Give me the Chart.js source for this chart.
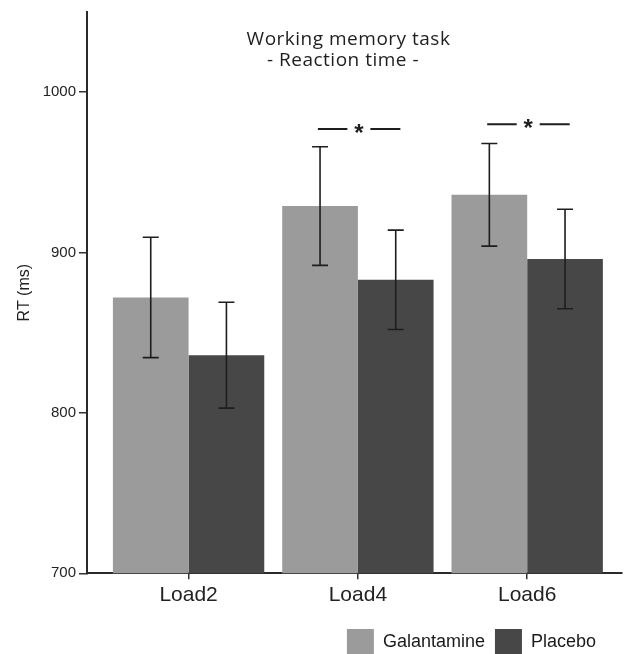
<!DOCTYPE html>
<html><head><meta charset="utf-8">
<script src="https://cdn.jsdelivr.net/npm/chart.js@4/dist/chart.umd.min.js"></script>
<style>html,body{margin:0;padding:0;background:#fff;overflow:hidden}#wrap{width:624px;height:654px;position:relative}</style>
</head><body><div id="wrap"><canvas id="c" width="624" height="654"></canvas></div>
<script>
const categories = ['Load2', 'Load4', 'Load6'];
const seriesNames = ['Galantamine', 'Placebo'];
const galantamine = [872, 929, 936];
const placebo = [836, 883, 896];
const galantamineErr = [37.5, 37, 32];
const placeboErr = [33, 31, 31];
const yTicks = [700, 800, 900, 1000];
const sigCategories = ['Load4', 'Load6'];
const sigLevels = [977, 980];
const sigMarks = ['*', '*'];
const titleLines = ['Working memory task', '- Reaction time -'];
const yTitle = 'RT (ms)';

const FONT = '"Liberation Sans", Arial, Helvetica, sans-serif';
Chart.defaults.font.family = FONT;
Chart.defaults.color = '#222';

const errorBars = {
  id: 'errorBars',
  afterDatasetsDraw(chart) {
    const ctx = chart.ctx, y = chart.scales.y;
    const errs = [galantamineErr, placeboErr];
    ctx.save();
    ctx.strokeStyle = '#1e1e1e';
    ctx.lineWidth = 1.6;
    chart.data.datasets.forEach((ds, di) => {
      const meta = chart.getDatasetMeta(di);
      meta.data.forEach((bar, i) => {
        const v = ds.data[i].y, e = errs[di][i];
        const x = bar.x, top = y.getPixelForValue(v + e), bot = y.getPixelForValue(v - e);
        ctx.beginPath();
        ctx.moveTo(x, top); ctx.lineTo(x, bot);
        ctx.moveTo(x - 8, top); ctx.lineTo(x + 8, top);
        ctx.moveTo(x - 8, bot); ctx.lineTo(x + 8, bot);
        ctx.stroke();
      });
    });
    ctx.restore();
  }
};

const sigPlugin = {
  id: 'sig',
  afterDatasetsDraw(chart) {
    const {ctx, scales: {x, y}} = chart;
    ctx.save();
    ctx.strokeStyle = '#1e1e1e';
    ctx.fillStyle = '#1e1e1e';
    ctx.lineWidth = 2;
    ctx.font = 'bold 24px ' + FONT;
    ctx.textAlign = 'center';
    ctx.textBaseline = 'alphabetic';
    sigCategories.forEach((c, k) => {
      const cx = x.getPixelForValue(categories.indexOf(c) + 1);
      const ly = y.getPixelForValue(sigLevels[k]);
      ctx.beginPath();
      ctx.moveTo(cx - 40, ly); ctx.lineTo(cx - 10.5, ly);
      ctx.moveTo(cx + 12.5, ly); ctx.lineTo(cx + 42.5, ly);
      ctx.stroke();
      ctx.fillText(sigMarks[k], cx + 1, ly + 11.5);
    });
    ctx.restore();
  }
};

const titlePlugin = {
  id: 'innerTitle',
  afterDraw(chart) {
    const ctx = chart.ctx;
    ctx.save();
    ctx.fillStyle = '#1e1e1e';
    ctx.font = '19px "Open Sans", "Noto Sans", sans-serif';
    ctx.textAlign = 'center';
    ctx.textBaseline = 'alphabetic';
    try { ctx.letterSpacing = '0.5px'; } catch (e) {}
    ctx.fillText(titleLines[0], 348.5, 44.5);
    ctx.fillText(titleLines[1], 343, 66);
    ctx.restore();
  }
};

const legendPos = {
  id: 'legendPos',
  afterLayout(chart) {
    const lg = chart.legend;
    if (!lg) return;
    const pad = lg.options.labels.padding;
    lg.top = 629 - pad;
    lg.bottom = 700;
    lg.right = 606;
  }
};

new Chart(document.getElementById('c'), {
  type: 'bar',
  data: {
    datasets: [
      {
        label: seriesNames[0],
        data: galantamine.map((v, i) => ({x: i + 1, y: v})),
        backgroundColor: '#9b9b9b',
        borderWidth: 0,
        categoryPercentage: 0.894,
        barPercentage: 1
      },
      {
        label: seriesNames[1],
        data: placebo.map((v, i) => ({x: i + 1, y: v})),
        backgroundColor: '#474747',
        borderWidth: 0,
        categoryPercentage: 0.894,
        barPercentage: 1
      }
    ]
  },
  options: {
    responsive: false,
    animation: false,
    devicePixelRatio: 1,
    layout: {padding: {left: 0, right: 2, top: 8, bottom: 0}},
    plugins: {
      legend: {
        position: 'bottom',
        align: 'end',
        labels: {
          boxWidth: 27,
          boxHeight: 27,
          padding: 10,
          color: '#1a1a1a',
          font: {size: 18, family: FONT}
        }
      },
      tooltip: {enabled: false},
      title: {display: false}
    },
    scales: {
      x: {
        type: 'linear',
        min: 0.4,
        max: 3.56,
        offset: false,
        afterBuildTicks: s => { s.ticks = categories.map((c, i) => ({value: i + 1})); },
        afterFit: s => { s.height = 33.7; },
        ticks: {
          autoSkip: false,
          maxRotation: 0,
          padding: 3,
          color: '#222',
          font: {size: 21, family: FONT},
          callback: v => categories[Math.round(v) - 1]
        },
        grid: {drawOnChartArea: false, drawTicks: true, tickLength: 6, color: '#333', lineWidth: 1.5, offset: false},
        border: {display: true, color: '#2a2a2a', width: 2}
      },
      y: {
        min: 700,
        max: 1050,
        beginAtZero: false,
        afterBuildTicks: s => { s.ticks = yTicks.map(v => ({value: v})); },
        afterFit: s => { s.width = 87; },
        ticks: {
          padding: 3,
          color: '#222',
          font: {size: 15, family: FONT},
          callback: v => String(v)
        },
        grid: {drawOnChartArea: false, drawTicks: true, tickLength: 8, color: '#333', lineWidth: 1.5},
        border: {display: true, color: '#2a2a2a', width: 2},
        title: {
          display: true,
          text: yTitle,
          color: '#222',
          font: {size: 16, family: FONT},
          padding: {top: 15, bottom: 0}
        }
      }
    }
  },
  plugins: [errorBars, sigPlugin, titlePlugin, legendPos]
});
</script>
</body></html>
